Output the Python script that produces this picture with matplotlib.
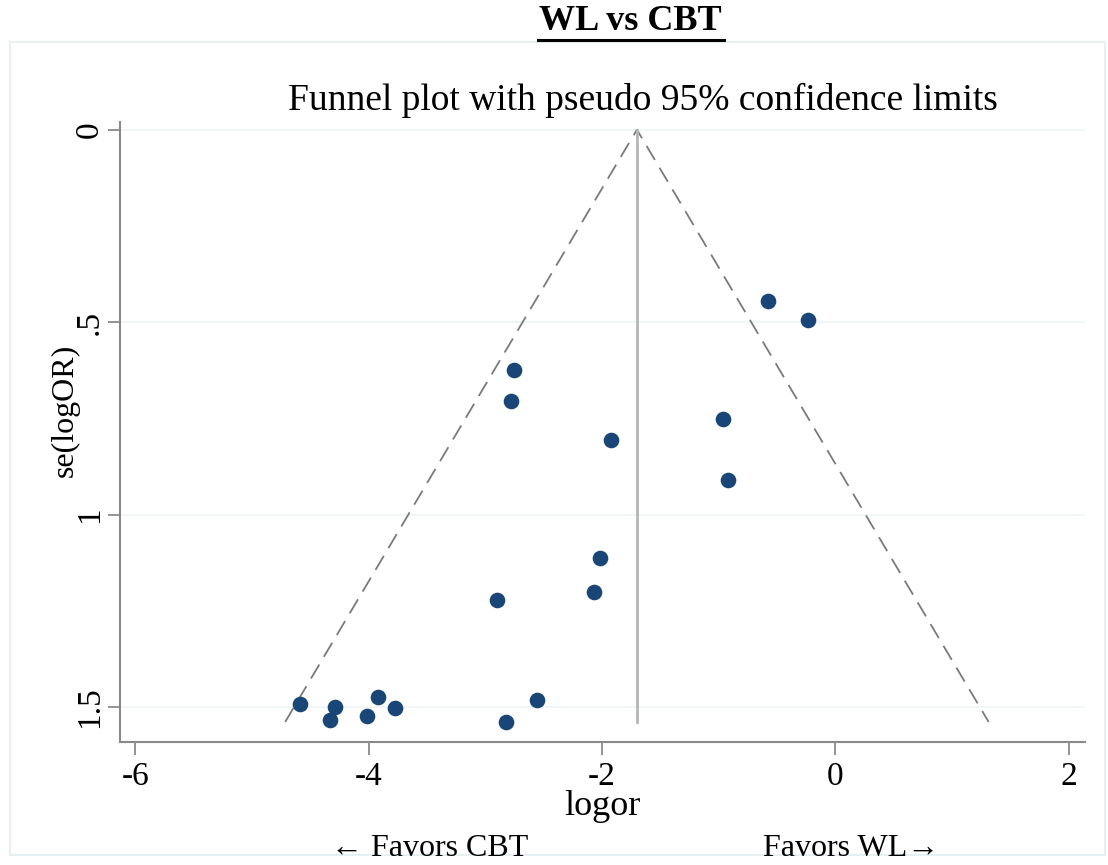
import numpy as np
import matplotlib.pyplot as plt
from matplotlib.patches import Rectangle

# ==========================================
# STUDY DATA (log odds ratio and its standard error)
# ==========================================

logor = [-0.58, -0.23, -2.75, -2.78, -0.96, -1.92, -0.92, -2.02, -2.07, -2.90,
         -4.59, -4.29, -4.33, -3.92, -4.01, -3.77, -2.56, -2.82]
se_logor = [0.444, 0.494, 0.623, 0.704, 0.751, 0.805, 0.910, 1.113, 1.200, 1.222,
            1.491, 1.499, 1.532, 1.474, 1.522, 1.503, 1.481, 1.538]

pooled_logor = -1.70
z95 = 1.96

x_ticks = [-6, -4, -2, 0, 2]
y_ticks = [0, 0.5, 1, 1.5]
y_tick_labels = ["0", ".5", "1", "1.5"]

# ==========================================
# FIGURE
# ==========================================

plt.rcParams["font.family"] = ["Liberation Serif", "DejaVu Serif"]

W, H = 1108, 865
fig = plt.figure(figsize=(W / 100, H / 100), dpi=100)

# faint outer graph-region border
fig.patches.append(Rectangle(
    (10 / W, 1 - 855 / H), 1095 / W, (855 - 42) / H,
    transform=fig.transFigure, fill=False,
    edgecolor="#e6eff1", linewidth=1.5
))

ax = fig.add_axes([120 / W, 1 - 742 / H, (1085 - 120) / W, (742 - 122) / H])

grid_col = "#edf3f4"
for yt in y_ticks:
    ax.axhline(yt, color=grid_col, linewidth=1.2, zorder=0)

# pseudo 95% confidence limits
se_max = max(se_logor)
ax.plot([pooled_logor - z95 * se_max, pooled_logor, pooled_logor + z95 * se_max],
        [se_max, 0, se_max],
        color="#7a7a7a", linewidth=1.3, linestyle=(0, (9, 5)), zorder=2)

ax.plot([pooled_logor, pooled_logor], [0, se_max],
        color="#b5b5b5", linewidth=2, zorder=2)

ax.scatter(logor, se_logor, s=105, color="#1a4677",
           edgecolors="#1a4677", zorder=3)

ax.set_xlim(-6.13, 2.14)
ax.set_ylim(1.59, -0.02)

ax.set_xticks(x_ticks)
ax.set_xticklabels([str(t) for t in x_ticks])
ax.set_yticks(y_ticks)
ax.set_yticklabels(y_tick_labels, rotation=90, va="center")

for side in ["top", "right"]:
    ax.spines[side].set_visible(False)
for side in ["left", "bottom"]:
    ax.spines[side].set_color("#8a8a8a")
    ax.spines[side].set_linewidth(1.5)

ax.tick_params(axis="both", direction="out", length=9, width=1.3,
               color="#8a8a8a", labelsize=24)
ax.tick_params(axis="x", pad=5)
ax.tick_params(axis="y", pad=2)

ax.set_ylabel("se(logOR)", fontsize=23)
ax.yaxis.set_label_coords(-0.042, 0.535)
ax.set_xlabel("logor", fontsize=26)
ax.xaxis.set_label_coords(0.5, -0.078)

# ==========================================
# TITLES AND DIRECTION NOTES
# ==========================================

fig.text(630 / W, 1 - 22 / H, "WL vs CBT", fontsize=26, fontweight="bold",
         ha="center", va="center")
fig.add_artist(plt.Line2D([538 / W, 724 / W], [1 - 40 / H, 1 - 40 / H],
                          color="black", linewidth=2.2,
                          transform=fig.transFigure))

fig.text(643 / W, 1 - 100 / H, "Funnel plot with pseudo 95% confidence limits",
         fontsize=27, ha="center", va="center")

fig.text(430 / W, 1 - 849 / H, "\u2190 Favors CBT", fontsize=23,
         ha="center", va="center")
fig.text(851 / W, 1 - 849 / H, "Favors WL\u2192", fontsize=23,
         ha="center", va="center")

fig.savefig("out.png", dpi=100)
